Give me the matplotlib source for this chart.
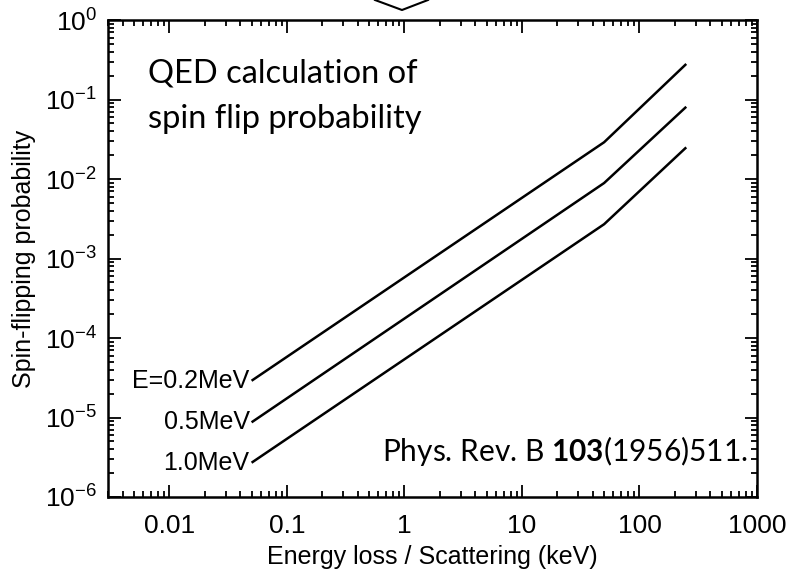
import matplotlib
matplotlib.use("Agg")
import matplotlib.pyplot as plt
from matplotlib.lines import Line2D
import numpy as np

# energy loss points (keV) and spin flip probability for each beam energy
energy_loss = [0.05, 50, 250]
prob_02 = [2.9e-5, 0.029, 0.28]
prob_05 = [8.7e-6, 0.0089, 0.081]
prob_10 = [2.7e-6, 0.0027, 0.025]
curve_labels = ["E=0.2MeV", "0.5MeV", "1.0MeV"]

x_ticks = [0.01, 0.1, 1, 10, 100, 1000]
x_ticklabels = ["0.01", "0.1", "1", "10", "100", "1000"]
y_ticks = [1e-6, 1e-5, 1e-4, 1e-3, 1e-2, 1e-1, 1e0]
y_ticklabels = [r"$\mathregular{10^{%d}}$" % p for p in range(-6, 1)]

plt.rcParams['font.family'] = ['Liberation Sans', 'DejaVu Sans']
plt.rcParams['mathtext.fontset'] = 'custom'
plt.rcParams['mathtext.rm'] = 'Liberation Sans'
plt.rcParams['mathtext.bf'] = 'Lato:bold'

fig = plt.figure(figsize=(7.88, 5.69), dpi=100)
ax = fig.add_axes([108 / 788, 72 / 569, (757 - 108) / 788, (497 - 20) / 569])

for probs, lab in zip([prob_02, prob_05, prob_10], curve_labels):
    ax.plot(energy_loss, probs, color="black", lw=1.8, solid_capstyle="butt")
    ax.text(energy_loss[0] / 1.04, probs[0], lab, ha="right", va="center",
            fontsize=18)

ax.set_xscale("log")
ax.set_yscale("log")
ax.set_xlim(0.003, 1000)
ax.set_ylim(1e-6, 1)
ax.set_xticks(x_ticks)
ax.set_xticklabels(x_ticklabels, fontsize=19)
ax.set_yticks(y_ticks)
ax.set_yticklabels(y_ticklabels, fontsize=19)
ax.tick_params(which="both", direction="in", top=True, right=True, width=1.3)
ax.tick_params(which="major", length=9, pad=8)
ax.tick_params(axis="x", which="major", pad=12)
ax.tick_params(which="minor", length=4.5)
for sp in ax.spines.values():
    sp.set_linewidth(1.8)

ax.set_xlabel("Energy loss / Scattering (keV)", fontsize=18, labelpad=5)
ax.set_ylabel("Spin-flipping probability", fontsize=18, labelpad=6)

fig.text(148 / 788, 1 - 83 / 569, "QED calculation of", fontsize=23.5,
         family="Lato", va="baseline", ha="left")
fig.text(148 / 788, 1 - 128 / 569, "spin flip probability", fontsize=23.5,
         family="Lato", va="baseline", ha="left")
fig.text(748 / 788, 1 - 461 / 569, r"Phys. Rev. B $\mathbf{103}$(1956)511.",
         fontsize=21.5, family="Lato", ha="right", va="baseline")

# chevron sticking in from above the plot
fig.add_artist(Line2D([375 / 788, 402 / 788, 428 / 788],
                      [1, 1 - 10 / 569, 1], color="black", lw=1.5))

fig.savefig("out.png", dpi=100)
